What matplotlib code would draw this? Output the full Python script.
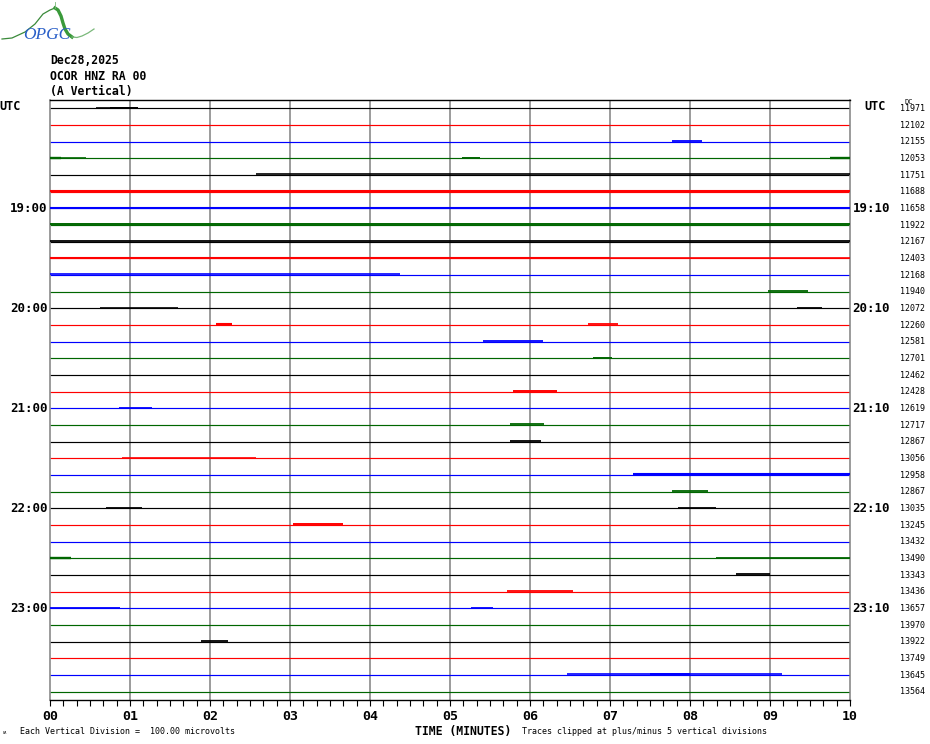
import matplotlib
matplotlib.use("Agg")
import matplotlib.pyplot as plt
import numpy as np

# ---------------- data ----------------
station = ["Dec28,2025", "OCOR HNZ RA 00", "(A Vertical)"]
dc_offsets = [11971, 12102, 12155, 12053, 11751, 11688, 11658, 11922, 12167,
              12403, 12168, 11940, 12072, 12260, 12581, 12701, 12462, 12428,
              12619, 12717, 12867, 13056, 12958, 12867, 13035, 13245, 13432,
              13490, 13343, 13436, 13657, 13970, 13922, 13749, 13645, 13564]
trace_colors = ["#000000", "#ff0000", "#0000ff", "#006600"]
hour_rows = [6, 12, 18, 24, 30]
left_hour_labels = ["19:00", "20:00", "21:00", "22:00", "23:00"]
right_hour_labels = ["19:10", "20:10", "21:10", "22:10", "23:10"]
minute_ticks = list(range(11))
minute_labels = ["00", "01", "02", "03", "04", "05", "06", "07", "08", "09", "10"]

# noise bursts: row, start minute, end minute, strength (line width)
burst_row = [0, 0, 2, 3, 3, 3, 3, 4, 5, 6, 7, 8, 9, 9, 10, 11, 12, 12, 13, 13,
             14, 15, 17, 18, 19, 20, 21, 22, 23, 24, 24, 25, 27, 27, 28, 29,
             30, 30, 32, 34, 34]
burst_start = [0.58, 0.75, 7.78, 0.0, 0.14, 5.15, 9.75, 2.58, 0.0, 0.0, 0.0,
               0.0, 0.0, 7.0, 0.0, 8.97, 0.63, 9.34, 2.07, 6.72, 5.41, 6.79,
               5.79, 0.86, 5.75, 5.75, 0.9, 7.29, 7.78, 0.7, 7.85, 3.04, 0.0,
               8.33, 8.58, 5.71, 0.0, 5.26, 1.89, 6.46, 7.5]
burst_end = [1.1, 1.1, 8.15, 0.14, 0.45, 5.38, 10.0, 10.0, 10.0, 10.0, 10.0,
             10.0, 7.0, 10.0, 4.38, 9.47, 1.6, 9.65, 2.28, 7.1, 6.16, 7.03,
             6.34, 1.27, 6.17, 6.14, 2.58, 10.0, 8.22, 1.15, 8.33, 3.66, 0.26,
             10.0, 9.0, 6.54, 0.88, 5.54, 2.23, 9.15, 8.0]
burst_lw = [1.2, 1.4, 1.3, 1.7, 1.2, 1.4, 1.7, 1.2, 1.5, 1.5, 1.4, 1.3, 1.5,
            1.2, 1.2, 1.3, 1.2, 1.3, 1.5, 1.3, 1.3, 1.4, 1.4, 1.3, 1.3, 1.3,
            1.2, 1.5, 1.3, 1.3, 1.3, 1.4, 1.7, 1.3, 1.3, 1.3, 1.3, 1.3, 1.3,
            1.2, 1.4]

# ---------------- figure ----------------
W, H = 930, 744
fig = plt.figure(figsize=(W / 100, H / 100), dpi=100)
fig.patch.set_facecolor("white")
ax = fig.add_axes([50 / W, (H - 700) / H, 800 / W, 600 / H])

n_rows = len(dc_offsets)
ax.set_xlim(0, 10)
ax.set_ylim(35.5, -0.5)

MONO = "DejaVu Sans Mono"

# grid lines (minutes)
for m in range(1, 10):
    ax.axvline(m, color="#808080", lw=1.1, zorder=1)

# traces
rows = np.arange(n_rows)
for r in rows:
    ax.hlines(r, 0, 10, color=trace_colors[r % 4], lw=0.85, zorder=2)
for r, s, e, w in zip(burst_row, burst_start, burst_end, burst_lw):
    ax.hlines(r - 0.04, s, e, color=trace_colors[r % 4], lw=w, zorder=3)

# spines
for side in ["left", "right"]:
    ax.spines[side].set_color("#808080")
    ax.spines[side].set_linewidth(1.1)
for side in ["top", "bottom"]:
    ax.spines[side].set_color("black")
    ax.spines[side].set_linewidth(1.0)

ax.set_yticks([])
ax.set_xticks(minute_ticks)
ax.set_xticklabels(minute_labels, fontfamily=MONO, fontweight="bold", fontsize=9.5)
ax.set_xticks(np.arange(0, 10.01, 1 / 6), minor=True)
ax.tick_params(axis="x", which="both", direction="out", length=4.5, width=0.8,
               color="black", pad=2.5)

# hour labels
for r, ll, rl in zip(hour_rows, left_hour_labels, right_hour_labels):
    ax.text(-0.03, r, ll, ha="right", va="center", fontfamily=MONO,
            fontweight="bold", fontsize=9.0, clip_on=False)
    ax.text(10.03, r, rl, ha="left", va="center", fontfamily=MONO,
            fontweight="bold", fontsize=9.0, clip_on=False)
ax.text(-0.5, -0.1, "UTC", ha="center", va="center", fontfamily=MONO,
        fontweight="bold", fontsize=8.5, clip_on=False)
ax.text(10.31, -0.1, "UTC", ha="center", va="center", fontfamily=MONO,
        fontweight="bold", fontsize=8.5, clip_on=False)

# DC offsets
for r, v in zip(rows, dc_offsets):
    ax.text(10.78, r, str(v), ha="center", va="center", fontfamily=MONO,
            fontsize=6.0, clip_on=False)
ax.text(10.74, -0.38, "DC", ha="center", va="center", fontfamily=MONO,
        fontsize=5.0, clip_on=False)


def ptext(x, y, s, **kw):
    fig.text(x / W, 1 - y / H, s, **kw)


for i, line in enumerate(station):
    ptext(50, 61 + i * 15.5, line, ha="left", va="center", fontfamily=MONO,
          fontweight="bold", fontsize=8.3)

ptext(463, 731, "TIME (MINUTES)", ha="center", va="center", fontfamily=MONO,
      fontweight="bold", fontsize=8.3)
ptext(20, 731, "Each Vertical Division =  100.00 microvolts", ha="left",
      va="center", fontfamily=MONO, fontsize=6.0)
ptext(522, 731, "Traces clipped at plus/minus 5 vertical divisions", ha="left",
      va="center", fontfamily=MONO, fontsize=6.0)
ptext(3, 732, "\u028d", ha="left", va="center", fontfamily=MONO, fontsize=4)

# logo
lax = fig.add_axes([0, 1 - 45 / H, 100 / W, 45 / H])
lax.set_xlim(0, 100)
lax.set_ylim(45, 0)
lax.axis("off")
lax.plot([2, 12, 25, 35, 43, 50, 55], [39, 38, 32, 24, 14, 10, 8],
         color="#3a8a3a", lw=0.9)
lax.plot([55, 58, 61, 63, 65, 68, 72], [8, 10, 16, 23, 29, 34, 37],
         color="#3a9a3a", lw=2.4)
lax.plot([72, 77, 82, 88, 94], [37, 37.5, 36, 33, 29], color="#7ab87a", lw=0.9)
lax.plot([55, 55], [2, 8], color="#7ab87a", lw=0.6)
lax.text(47, 35, "OPGC", ha="center", va="center", fontfamily="Liberation Serif",
         style="italic", fontsize=12.5, color="#2a5fc8")

fig.savefig("out.png", dpi=100, facecolor="white")
